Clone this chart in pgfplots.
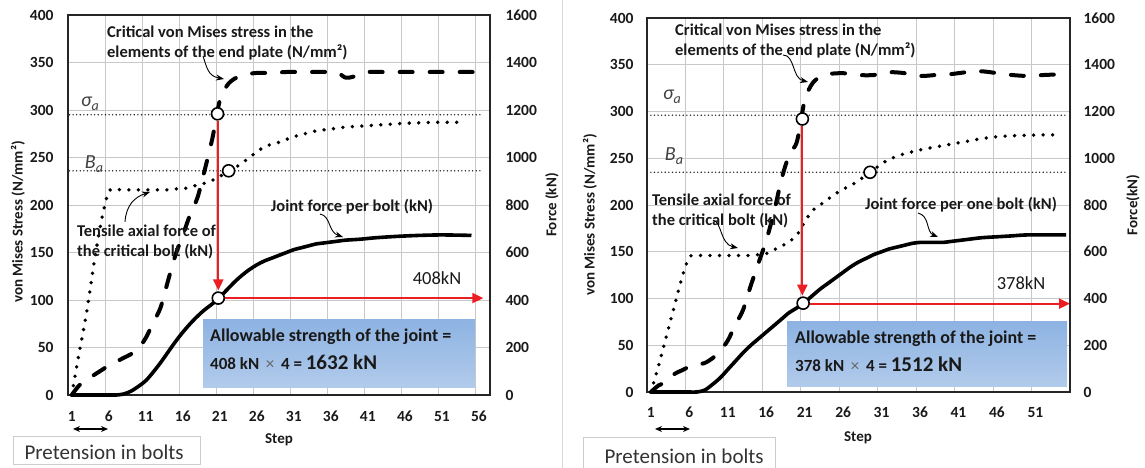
\documentclass[border=0pt]{standalone}
\usepackage{fontspec}
\setmainfont{Carlito}
\usepackage{pgfplots}
\pgfplotsset{compat=1.18}
\usetikzlibrary{arrows.meta}

\definecolor{redarrow}{RGB}{235,30,35}
\definecolor{boxtop}{RGB}{141,179,226}
\definecolor{boxbot}{RGB}{178,203,235}
\definecolor{gridc}{RGB}{200,200,200}
\definecolor{txt}{RGB}{25,25,25}

\pgfplotsset{
  base/.style={scale only axis, anchor=south west, ymin=0, ymax=400,
    ytick={0,50,...,400}, major tick length=0pt, minor tick length=0pt,
    ymajorgrids, xminorgrids,
    grid style={gridc, line width=0.9bp}, minor grid style={gridc, line width=0.9bp},
    axis line style={black!85, line width=1.4bp},
    tick label style={font=\bfseries\fontsize{15.5bp}{17bp}\selectfont, text=txt},
    /pgf/number format/assume math mode=true, /pgf/number format/1000 sep={},
    scaled y ticks=false, clip=false},
  sec/.style={scale only axis, anchor=south west, ymin=0, ymax=1600,
    axis y line*=right, axis x line=none, ytick={0,200,...,1600},
    major tick length=0pt, axis line style={black!85, line width=1.4bp},
    tick label style={font=\bfseries\fontsize{15.5bp}{17bp}\selectfont, text=txt},
    /pgf/number format/assume math mode=true, /pgf/number format/1000 sep={},
    scaled y ticks=false},
  refline/.style={black!85, line width=1.6bp, dash pattern=on 0bp off 3.6bp, line cap=round},
  dotser/.style={black, line width=3.8bp, dash pattern=on 0bp off 9.5bp, line cap=round, smooth},
  dashser/.style={black, line width=4bp, dash pattern=on 13bp off 17bp, line cap=round, smooth},
  solidser/.style={black, line width=3.6bp, smooth},
  redarr/.style={redarrow, line width=2bp, -{Triangle[length=11bp,width=10bp]}},
  circ/.style={only marks, mark=*, mark size=6bp, mark options={fill=white, draw=black, line width=1.6bp}},
}

\newcommand{\grk}[2]{{\fontsize{20bp}{20bp}\selectfont\itshape #1\raisebox{-4bp}{\fontsize{14bp}{14bp}\selectfont #2}}}

\begin{document}
\begin{tikzpicture}
\path[use as bounding box] (0bp,0bp) rectangle (1145bp,468bp);

% ================= LEFT PANEL =================
\begin{axis}[base, at={(68bp,73bp)}, width=422bp, height=380bp,
  xmin=0.5, xmax=57.5, xtick={1,6,...,56}, minor xtick={5.5,10.5,...,55.5},
  yticklabel style={xshift=-11bp}, xticklabel style={yshift=-12.6bp}]
\addplot[refline] coordinates {(0.7,295) (56.6,295)};
\addplot[refline] coordinates {(0.7,236) (56.6,236)};
% Tensile axial force of the critical bolt (kN / 4)
\addplot[dotser] coordinates {(1,0) (2,44) (3,86) (4,138) (5,183) (6,214) (7,216) (8,216) (9,216) (10,216)
 (11,216) (12,216) (13,216) (14,216) (15,217) (16,217) (17,219) (18,221) (19,223) (20,226)
 (21,230) (22,235) (23,239) (24,244) (25,250) (26,256) (27,261) (28,264) (29,266) (30,269)
 (31,272) (32,274) (33,276) (34,278) (36,280) (38,282) (40,283) (42,284) (44,285) (46,286)
 (48,286.5) (50,287) (52,287) (54,287)};
% Critical von Mises stress
\addplot[dashser] coordinates {(1,0) (2,10) (3,16) (4,21) (5,26) (6,31) (7,35) (8,39) (9,43) (10,49)
 (11,60) (12,76) (13,92) (14,120) (15,147) (16,168) (17,190) (18,208) (19,238) (20,270)
 (21,310) (22,326) (23,333) (24,336) (25,338) (26,339) (28,339) (30,340) (32,340) (34,340)
 (36,340) (37,339) (38,334) (39,335) (40,338) (41,340) (43,340) (46,340) (50,340) (54,340) (57,340)};
% Joint force per bolt (kN / 4)
\addplot[solidser] coordinates {(1,0) (2,0) (3,0) (4,0) (5,0) (6,0) (7,0) (8,1) (9,4) (10,9)
 (11,15) (12,24) (13,34) (14,45) (15,56) (16,66) (17,75) (18,83) (19,90) (20,96)
 (21,103) (22,111) (23,119) (24,126) (25,132) (26,137) (27,141) (28,144) (29,147) (30,150)
 (31,153) (32,155) (33,157) (34,159) (35,160) (36,161) (37,162) (38,163) (40,164) (42,165.5)
 (45,167) (48,168) (51,168.5) (55,168)};
\addplot[redarr] coordinates {(20.8,288) (20.8,110)};
\addplot[redarr] coordinates {(21.7,102) (56.6,102)};
\addplot[circ] coordinates {(20.7,296) (20.8,102) (22.2,236)};
\end{axis}
\begin{axis}[sec, at={(68bp,73bp)}, width=422bp, height=380bp, xmin=0.5, xmax=57.5,
  yticklabel style={xshift=12bp}]
\addplot[draw=none] coordinates {(1,0)};
\end{axis}

% ================= RIGHT PANEL =================
\begin{axis}[base, at={(647bp,76bp)}, width=423bp, height=374bp,
  xmin=0.5, xmax=55.5, xtick={1,6,...,51}, minor xtick={5.5,10.5,...,50.5},
  yticklabel style={xshift=-10bp}, xticklabel style={yshift=-11.6bp}]
\addplot[refline] coordinates {(1,296) (55,296)};
\addplot[refline] coordinates {(1,235) (55,235)};
\addplot[dotser] coordinates {(1,0) (2,28) (3,59) (4,90) (5,121) (6,144) (7,146) (8,146) (9,146) (10,146)
 (11,146) (12,146) (13,146) (14,146) (15,147) (16,148) (17,152) (18,156) (19,161) (20,168)
 (21,182) (22,194) (23,200) (24,206) (25,212) (26,217) (27,221) (28,226) (29,232) (30,238)
 (31,244) (32,249) (33,252) (34,255) (35,257) (36,259) (38,262) (40,265) (42,268) (44,271)
 (46,273) (48,274) (50,274.5) (52,275) (54,275)};
\addplot[dashser] coordinates {(1,0) (2,7) (3,11) (4,19) (5,23) (6,27) (7,29) (8,31) (9,36) (10,44)
 (11,55) (12,72) (13,88) (14,114) (15,138) (16,162) (17,192) (18,228) (19,254) (20,268)
 (21,312) (22,330) (23,337) (24,340) (26,341) (28,339) (30,339) (32,342) (34,341) (36,338)
 (38,339) (40,340) (42,342) (44,343) (46,341) (48,339) (50,338) (52,339) (55,340)};
\addplot[solidser] coordinates {(1,0) (2,0) (3,0) (4,0) (5,0) (6,0) (7,0) (8,2) (9,8) (10,15)
 (11,24) (12,33) (13,42) (14,50) (15,57) (16,64) (17,71) (18,78) (19,85) (20,90)
 (21,96) (22,103) (23,110) (24,116) (25,122) (26,128) (27,134) (28,139) (29,143) (30,147)
 (31,150) (32,153) (33,155) (34,157) (35,159) (36,160) (37,160) (38,160) (39,160) (40,161)
 (42,163) (44,165) (46,166) (48,167) (50,168) (55,168)};
\addplot[redarr] coordinates {(20.7,284) (20.7,103)};
\addplot[redarr] coordinates {(21.6,94.5) (55.5,94.5)};
\addplot[circ] coordinates {(20.7,292) (20.8,95) (29.5,235)};
\end{axis}
\begin{axis}[sec, at={(647bp,76bp)}, width=423bp, height=374bp, xmin=0.5, xmax=55.5,
  yticklabel style={xshift=10bp}]
\addplot[draw=none] coordinates {(1,0)};
\end{axis}

% ================= ANNOTATIONS (pixel coordinates, y down) =================
\begin{scope}[shift={(0bp,468bp)}, x=1bp, y=-1bp]
\draw[black!15, line width=1bp] (562,0) -- (562,468);

\tikzset{lab/.style={font=\bfseries\fontsize{15bp}{17bp}\selectfont, text=txt},
  ann/.style={font=\bfseries\fontsize{16.5bp}{20bp}\selectfont, text=txt, align=left, inner sep=0pt},
  carr/.style={black, line width=0.9bp, -{Stealth[length=8bp,width=6bp]}}}

% axis titles
\node[lab, rotate=90] at (18,222) {von Mises Stress (N/mm²)};
\node[lab, rotate=90] at (552,205) {Force (kN)};
\node[lab] at (279,440) {Step};
\node[lab, rotate=90] at (590,215) {von Mises Stress (N/mm²)};
\node[lab, rotate=90] at (1133,205) {Force(kN)};
\node[lab] at (858,438) {Step};

% sigma / B labels
\node[text=black!75] at (90,104) {\grk{σ}{a}};
\node[text=black!75] at (94,164) {\grk{B}{a}};
\node[text=black!75] at (672,97) {\grk{σ}{a}};
\node[text=black!75] at (674,156) {\grk{B}{a}};

% left annotations
\node[ann, anchor=west] at (107,43) {Critical von Mises stress in the\\elements of the end plate (N/mm²)};
\draw[carr] (203,56) .. controls (207,68) and (208,76) .. (224,79);
\node[ann, anchor=west] at (77,242) {Tensile axial force of\\the critical bolt (kN)};
\draw[carr] (125,222) .. controls (126,205) and (135,197) .. (150,192);
\node[ann] at (352,207) {Joint force per bolt (kN)};
\draw[carr] (320,214) .. controls (331,216) and (328,232) .. (343,237);
\node[font=\fontsize{18.5bp}{20bp}\selectfont, text=txt] at (437,278) {408kN};

% right annotations
\node[ann, anchor=west] at (675,41) {Critical von Mises stress in the\\elements of the end plate (N/mm²)};
\draw[carr] (783,55) .. controls (795,55) and (792,78) .. (808,82);
\node[ann, anchor=west] at (652,211) {Tensile axial force of\\the critical bolt (kN)};
\draw[carr] (713,220) .. controls (722,222) and (720,244) .. (738,248);
\node[ann] at (961,205) {Joint force per one bolt (kN)};
\draw[carr] (918,213) .. controls (930,216) and (926,232) .. (938,237);
\node[font=\fontsize{18.5bp}{20bp}\selectfont, text=txt] at (1021,283) {378kN};

% blue boxes
\shade[top color=boxtop, bottom color=boxbot] (203,320) rectangle (475,388);
\node[anchor=base west, inner sep=0pt, font=\bfseries\fontsize{18bp}{20bp}\selectfont, text=txt] at (210,342) {Allowable strength of the joint =};
\node[anchor=base west, inner sep=0pt, font=\bfseries\fontsize{17bp}{18bp}\selectfont, text=txt] at (210,370)
 {408 kN {\mdseries\color{black!60}\,×\,} 4 = {\fontsize{21bp}{22bp}\selectfont 1632 kN}};
\shade[top color=boxtop, bottom color=boxbot] (787,322) rectangle (1067,387);
\node[anchor=base west, inner sep=0pt, font=\bfseries\fontsize{18bp}{20bp}\selectfont, text=txt] at (795,344) {Allowable strength of the joint =};
\node[anchor=base west, inner sep=0pt, font=\bfseries\fontsize{17bp}{18bp}\selectfont, text=txt] at (795,372)
 {378 kN {\mdseries\color{black!60}\,×\,} 4 = {\fontsize{21bp}{22bp}\selectfont 1512 kN}};

% pretension
\draw[black!20, line width=1bp, fill=white] (13,437) rectangle (200,465);
\node[anchor=west, font=\fontsize{21bp}{22bp}\selectfont, text=black!80] at (21,452) {Pretension in bolts};
\draw[black, line width=1.6bp, {Stealth[length=7bp,width=6bp]}-{Stealth[length=7bp,width=6bp]}] (73,429) -- (108,429);
\draw[black!20, line width=1bp, fill=white] (583,438) rectangle (775,472);
\node[anchor=west, font=\fontsize{21bp}{22bp}\selectfont, text=black!80] at (601,456) {Pretension in bolts};
\draw[black, line width=1.6bp, {Stealth[length=7bp,width=6bp]}-{Stealth[length=7bp,width=6bp]}] (655,429) -- (690,429);
\end{scope}
\end{tikzpicture}
\end{document}
